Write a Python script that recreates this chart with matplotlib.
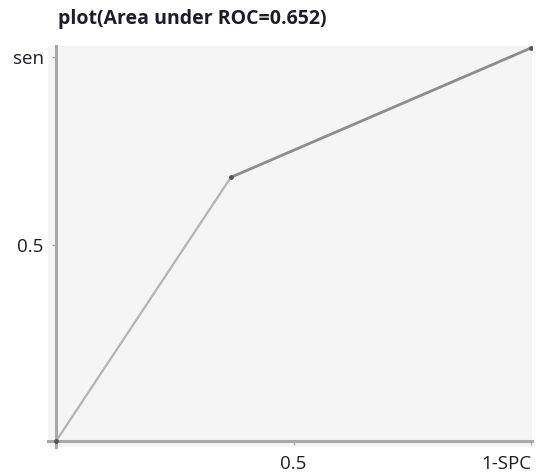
import matplotlib
matplotlib.use("Agg")
import matplotlib.pyplot as plt

# ROC points
fpr = [0.0, 0.368, 1.0]
tpr = [0.0, 0.671, 1.0]
auc = 0.652

x_ticks = [0.5, 1.0]
x_ticklabels = ["0.5", "1-SPC"]
y_ticks = [0.5, 0.978]
y_ticklabels = ["0.5", "sen"]

plt.rcParams["font.family"] = ["Open Sans", "DejaVu Sans"]
txt = "#1c1c2c"

fig = plt.figure(figsize=(5.36, 4.73), dpi=100)
ax = fig.add_axes([48 / 536, 1 - 447 / 473, 484 / 536, 401 / 473])
ax.set_facecolor("#f5f5f5")
ax.set_xlim(-0.017, 1.002)
ax.set_ylim(-0.015, 1.005)

ax.plot(fpr[:2], tpr[:2], color="#b4b4b4", lw=1.6, solid_capstyle="round")
ax.plot(fpr[1:], tpr[1:], color="#8c8c8c", lw=2.0, solid_capstyle="round")
ax.scatter(fpr, tpr, s=6, color="#555555", zorder=3)

for s in ["top", "right"]:
    ax.spines[s].set_visible(False)
ax.spines["left"].set_position(("data", 0))
ax.spines["bottom"].set_position(("data", 0))
ax.spines["left"].set_color("#a8a8a8")
ax.spines["bottom"].set_color("#a8a8a8")
ax.spines["left"].set_linewidth(2.2)
ax.spines["bottom"].set_linewidth(2.2)

ax.set_xticks(x_ticks)
ax.set_yticks(y_ticks)
ax.tick_params(axis="both", length=3, width=1, color="#a8a8a8",
               labelsize=13.5, labelcolor=txt)
ax.tick_params(axis="x", pad=7)
ax.tick_params(axis="y", pad=6)
ax.set_xticklabels(x_ticklabels)
ax.set_yticklabels(y_ticklabels)
lbls = ax.get_xticklabels()
lbls[1].set_horizontalalignment("right")
lbls[1].set_x(1.0)

fig.text(58 / 536, 1 - 19 / 473, "plot(Area under ROC=%.3f)" % auc,
         fontsize=14, fontweight="bold", color=txt, va="center", ha="left")

fig.savefig("out.png", dpi=100)
